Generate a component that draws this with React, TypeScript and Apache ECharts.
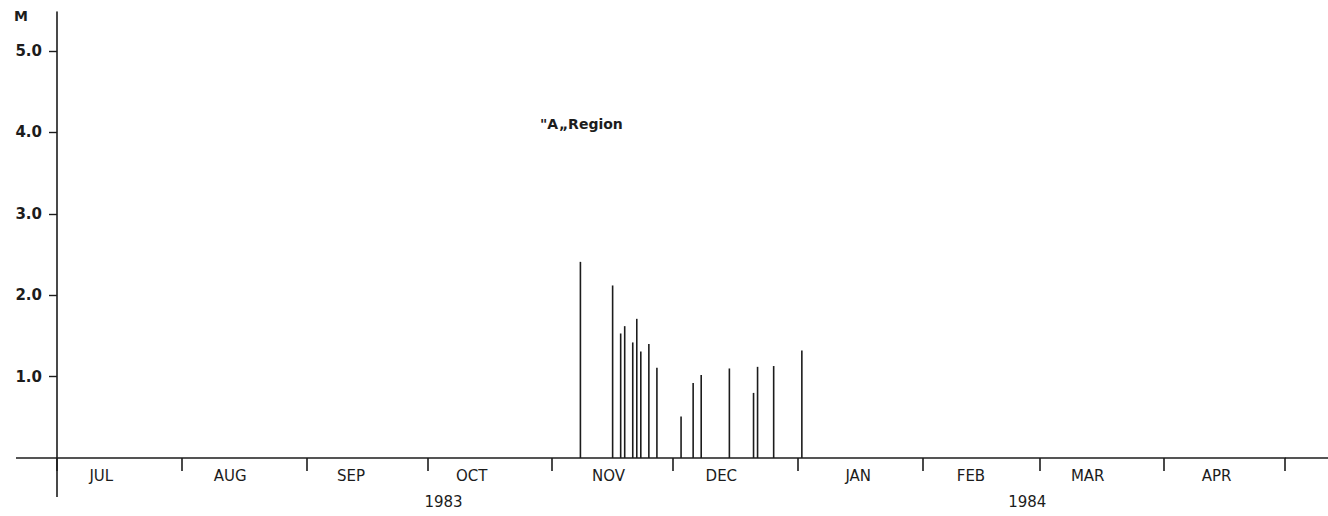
import React, { useEffect, useRef } from "react";
import * as echarts from "echarts";

// ---- data ----
const eventDates = [
  "1983-11-08", "1983-11-16", "1983-11-18", "1983-11-19", "1983-11-21",
  "1983-11-22", "1983-11-23", "1983-11-25", "1983-11-27", "1983-12-03",
  "1983-12-06", "1983-12-08", "1983-12-15", "1983-12-21", "1983-12-22",
  "1983-12-26", "1984-01-02",
];
const heights = [
  2.41, 2.12, 1.53, 1.62, 1.42, 1.71, 1.31, 1.40, 1.11, 0.51,
  0.92, 1.02, 1.10, 0.80, 1.12, 1.13, 1.32,
];
const monthStarts = [
  "1983-07-01", "1983-08-01", "1983-09-01", "1983-10-01", "1983-11-01",
  "1983-12-01", "1984-01-01", "1984-02-01", "1984-03-01", "1984-04-01",
  "1984-05-01",
];
const monthLabels = ["JUL", "AUG", "SEP", "OCT", "NOV", "DEC", "JAN", "FEB", "MAR", "APR"];
const monthLabelDates = [
  "1983-07-12", "1983-08-13", "1983-09-12", "1983-10-12", "1983-11-15",
  "1983-12-13", "1984-01-16", "1984-02-13", "1984-03-13", "1984-04-14",
];
const yearLabels = ["1983", "1984"];
const yearLabelDates = ["1983-10-05", "1984-02-27"];
const yTicks = [1, 2, 3, 4, 5];
const yUnit = "M";
const title = "\"A\u201ERegion";

// ---- helpers ----
const DAY = 86400000;
// days since 1983-07-01, computed in UTC to avoid timezone issues
const dayNum = (s: string) => {
  const [y, m, d] = s.split("-").map(Number);
  return (Date.UTC(y, m - 1, d) - Date.UTC(1983, 6, 1)) / DAY;
};

const W = 1328;
const H = 516;
const GRID_LEFT = 57;
const GRID_RIGHT = 43;
const GRID_TOP = 12;
const GRID_BOTTOM = 58;
const INK = "#1c1c1c";
const FONT = "DejaVu Sans";

export default function App() {
  const ref = useRef<HTMLDivElement>(null);

  useEffect(() => {
    if (!ref.current) return;
    const chart = echarts.init(ref.current, undefined, { renderer: "svg" });
    const monthPos = monthLabelDates.map(dayNum);
    const yearPos = yearLabelDates.map(dayNum);
    const xMin = dayNum(monthStarts[0]);
    const xMax = dayNum(monthStarts[monthStarts.length - 1]);
    const baseY = H - GRID_BOTTOM;

    chart.setOption({
      animation: false,
      backgroundColor: "#ffffff",
      grid: { left: GRID_LEFT, right: GRID_RIGHT, top: GRID_TOP, bottom: GRID_BOTTOM },
      xAxis: [
        {
          type: "value",
          min: xMin,
          max: xMax,
          axisLine: { show: true, onZero: false, lineStyle: { color: INK, width: 1.6 } },
          axisTick: {
            show: true,
            inside: false,
            length: 13,
            customValues: monthStarts.map(dayNum),
            lineStyle: { color: INK, width: 1.6 },
          },
          axisLabel: {
            show: true,
            customValues: monthPos,
            margin: 10,
            fontFamily: FONT,
            fontSize: 15,
            color: INK,
            formatter: (v: number) => {
              const i = monthPos.indexOf(v);
              return i >= 0 ? monthLabels[i] : "";
            },
          },
          splitLine: { show: false },
        },
        {
          type: "value",
          position: "bottom",
          min: xMin,
          max: xMax,
          axisLine: { show: false, onZero: false },
          axisTick: { show: false },
          axisLabel: {
            show: true,
            customValues: yearPos,
            margin: 36,
            fontFamily: FONT,
            fontSize: 15,
            color: INK,
            formatter: (v: number) => {
              const i = yearPos.indexOf(v);
              return i >= 0 ? yearLabels[i] : "";
            },
          },
          splitLine: { show: false },
        },
      ],
      yAxis: {
        type: "value",
        min: 0,
        max: 5.48,
        axisLine: { show: true, onZero: false, lineStyle: { color: INK, width: 1.6 } },
        axisTick: {
          show: true,
          length: 8,
          customValues: yTicks,
          lineStyle: { color: INK, width: 1.4 },
        },
        axisLabel: {
          show: true,
          customValues: yTicks,
          margin: 15,
          fontFamily: FONT,
          fontSize: 15,
          fontWeight: "bold",
          color: INK,
          formatter: (v: number) => v.toFixed(1),
        },
        splitLine: { show: false },
      },
      series: [
        {
          type: "bar",
          xAxisIndex: 0,
          barWidth: 1.6,
          itemStyle: { color: INK },
          data: eventDates.map((d, i) => [dayNum(d), heights[i]]),
        },
      ],
      graphic: [
        {
          type: "line",
          shape: { x1: 16, y1: baseY, x2: GRID_LEFT, y2: baseY },
          style: { stroke: INK, lineWidth: 1.6 },
        },
        {
          type: "line",
          shape: { x1: W - GRID_RIGHT, y1: baseY, x2: W, y2: baseY },
          style: { stroke: INK, lineWidth: 1.6 },
        },
        {
          type: "line",
          shape: { x1: GRID_LEFT, y1: baseY, x2: GRID_LEFT, y2: baseY + 39 },
          style: { stroke: INK, lineWidth: 1.6 },
        },
        {
          type: "text",
          left: 14,
          top: 9,
          style: { text: yUnit, font: `bold 14px "${FONT}"`, fill: INK },
        },
        {
          type: "text",
          left: 540,
          top: 117,
          style: { text: title, font: `bold 14px "${FONT}"`, fill: INK },
        },
      ],
    });
    return () => chart.dispose();
  }, []);

  return (
    <div
      ref={ref}
      style={{ position: "absolute", left: 0, top: 0, width: W, height: H }}
    />
  );
}
